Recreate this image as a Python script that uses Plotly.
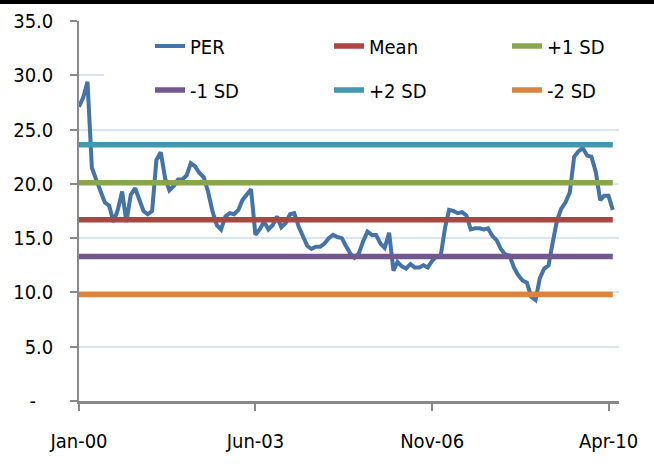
import pandas as pd
import plotly.graph_objects as go

# ---------------- data ----------------
dates = pd.date_range("2000-01-01", periods=125, freq="MS")
per = [
    27.1, 28.0, 29.4, 21.5, 20.4, 19.4, 18.3, 18.0, 16.5, 17.6,
    19.3, 16.5, 19.0, 19.6, 18.5, 17.5, 17.2, 17.5, 22.2, 22.9,
    20.5, 19.4, 19.8, 20.4, 20.4, 20.8, 21.9, 21.6, 21.0, 20.6,
    19.3, 17.5, 16.2, 15.8, 17.0, 17.3, 17.2, 17.6, 18.5, 19.0,
    19.5, 15.3, 15.8, 16.5, 15.8, 16.2, 17.0, 16.0, 16.4, 17.2,
    17.3, 16.1, 15.2, 14.3, 14.0, 14.2, 14.2, 14.5, 15.0, 15.3,
    15.1, 15.0, 14.3, 13.6, 13.2, 13.6, 14.7, 15.6, 15.3, 15.3,
    14.5, 14.1, 15.5, 12.0, 12.8, 12.4, 12.2, 12.6, 12.3, 12.3,
    12.5, 12.3, 12.9, 13.3, 13.4, 16.0, 17.6, 17.5, 17.3, 17.4,
    17.1, 15.8, 15.9, 15.9, 15.8, 15.9, 15.2, 14.8, 14.0, 13.5,
    13.4, 12.3, 11.6, 11.1, 10.9, 9.6, 9.3, 11.3, 12.2, 12.5,
    14.5, 16.6, 17.7, 18.3, 19.2, 22.5, 23.0, 23.3, 22.6, 22.5,
    21.1, 18.5, 18.9, 18.9, 17.6,
]
band_names = ["Mean", "+1 SD", "-1 SD", "+2 SD", "-2 SD"]
band_levels = [16.7, 20.1, 13.3, 23.6, 9.8]

y_tickvals = [0, 5, 10, 15, 20, 25, 30, 35]
y_ticktext = ["-\u00a0\u00a0\u00a0", "5.0", "10.0", "15.0", "20.0", "25.0", "30.0", "35.0"]
x_tickvals = ["2000-01-01", "2003-06-01", "2006-11-01", "2010-04-01"]
x_ticktext = ["Jan-00", "Jun-03", "Nov-06", "Apr-10"]

# ---------------- style ----------------
FONT = "Liberation Sans Narrow, DejaVu Sans Condensed, Arial Narrow, sans-serif"
per_color = "#4572A7"
band_colors = ["#AA4643", "#89A54E", "#71588F", "#4198AF", "#DB843D"]
axis_gray = "#888888"

W, H = 654, 466
L, R, T, B = 79, 35, 21, 65
PW, PH = W - L - R, H - T - B
X_START, X_END = pd.Timestamp("2000-01-01"), pd.Timestamp("2010-06-14")
Y_MIN, Y_MAX = 0, 35


def px_x(p):
    return (p - L) / PW


def px_y(p):
    return 1 - (p - T) / PH


def px_to_date(p):
    return X_START + (X_END - X_START) * px_x(p)


def px_to_val(p):
    return Y_MIN + (Y_MAX - Y_MIN) * px_y(p)


# legend slots: (x of item origin, y of row centre) in pixels
legend_cols = [150, 329, 507]
legend_rows = [46, 90]
slots = [(c, r) for r in legend_rows for c in legend_cols]
legend_ids = ["legend", "legend2", "legend3", "legend4", "legend5", "legend6"]

fig = go.Figure()
fig.add_trace(go.Scatter(
    x=dates, y=per, mode="lines", name="PER",
    line=dict(color=per_color, width=4), legend=legend_ids[0],
))
for i, (nm, lvl) in enumerate(zip(band_names, band_levels)):
    fig.add_trace(go.Scatter(
        x=dates, y=[lvl] * len(dates), mode="lines", name=nm,
        line=dict(color=band_colors[i], width=5.5), legend=legend_ids[i + 1],
    ))

legend_layouts = {}
for lid, (sx, sy) in zip(legend_ids, slots):
    legend_layouts[lid] = dict(
        x=px_x(sx), y=px_y(sy), xref="paper", yref="paper",
        xanchor="left", yanchor="middle",
        bgcolor="rgba(0,0,0,0)", borderwidth=0,
        font=dict(family=FONT, size=20, color="black"),
    )

fig.update_layout(
    width=W, height=H,
    margin=dict(l=L, r=R, t=T, b=B, pad=0, autoexpand=False),
    plot_bgcolor="white", paper_bgcolor="white",
    font=dict(family=FONT, size=20, color="black"),
    showlegend=True,
    **legend_layouts,
)

fig.update_xaxes(
    type="date", range=[X_START, X_END], automargin=False,
    tickvals=x_tickvals, ticktext=x_ticktext,
    ticks="outside", ticklen=7, tickwidth=1.5, tickcolor=axis_gray,
    showline=True, linecolor=axis_gray, linewidth=2.5,
    showgrid=False, zeroline=False, ticklabelstandoff=13,
    tickfont=dict(family=FONT, size=20, color="black"),
)
fig.update_yaxes(
    range=[Y_MIN, Y_MAX], automargin=False,
    tickvals=y_tickvals, ticktext=y_ticktext,
    ticks="outside", ticklen=7, tickwidth=1.5, tickcolor=axis_gray,
    showline=True, linecolor=axis_gray, linewidth=1.5,
    showgrid=True, gridcolor="#dbe4f1", gridwidth=2,
    zeroline=False, ticklabelstandoff=13,
    tickfont=dict(family=FONT, size=20, color="black"),
)

# white legend box (covers gridlines, below traces)
fig.add_shape(
    type="rect", xref="x", yref="y", layer="between",
    x0=px_to_date(104), x1=X_END, y0=px_to_val(106), y1=px_to_val(25),
    fillcolor="white", line=dict(width=0),
)

# black rule along the top edge of the picture
fig.add_shape(
    type="rect", xref="paper", yref="paper", layer="above",
    x0=px_x(0), x1=px_x(W), y0=px_y(3.5), y1=px_y(0),
    fillcolor="black", line=dict(color="black", width=1),
)

fig.write_html(
    "out.html",
    config={"displayModeBar": False},
    post_script="document.body.style.margin='0px';document.body.style.overflow='hidden';",
)
